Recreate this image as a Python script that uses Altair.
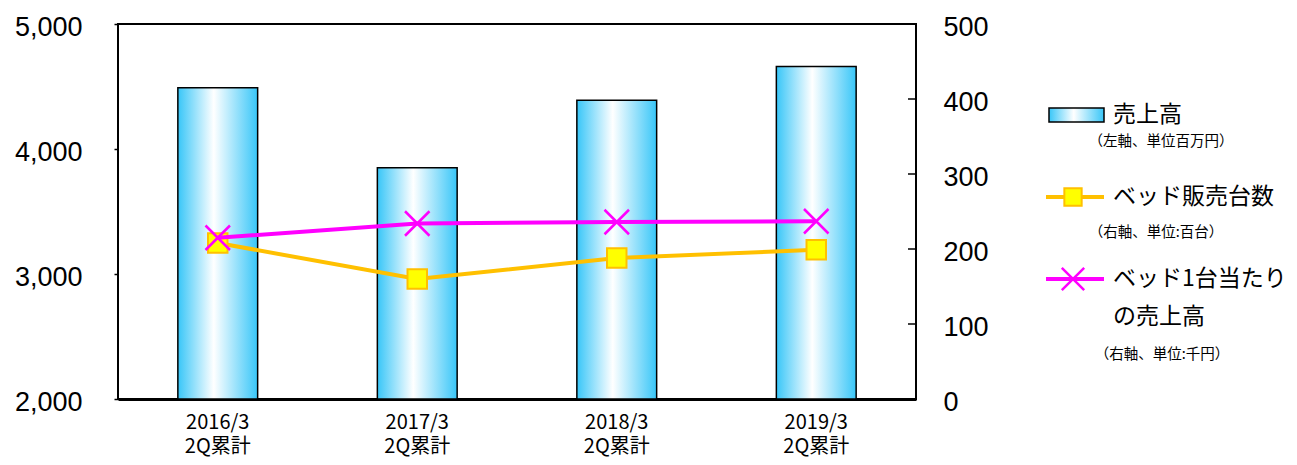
import altair as alt
import pandas as pd

categories = ["2016/3|2Q累計", "2017/3|2Q累計", "2018/3|2Q累計", "2019/3|2Q累計"]
sales = [4490, 3850, 4390, 4660]          # 売上高 (左軸, 百万円)
units = [208, 160, 188, 199]              # ベッド販売台数 (右軸, 百台)
per_unit = [215, 234, 236, 237]           # ベッド1台当たりの売上高 (右軸, 千円)
left_ticks = [2000, 3000, 4000, 5000]
right_ticks = [0, 100, 200, 300, 400, 500]
right_inner_ticks = [100, 200, 300, 400]

df = pd.DataFrame({"cat": categories, "sales": sales, "units": units, "per_unit": per_unit})
tick_df = pd.DataFrame({"t": right_inner_ticks})
one = pd.DataFrame({"k": [0]})

W, H = 798, 375
JP = "Noto Sans CJK JP"
NUM = "Liberation Sans"

gradient = alt.LinearGradient(
    gradient="linear",
    stops=[alt.GradientStop(color="#38c6f8", offset=0),
           alt.GradientStop(color="#ffffff", offset=0.45),
           alt.GradientStop(color="#38c6f8", offset=1)],
    x1=0, x2=1, y1=0, y2=0)

x_enc = alt.X("cat:N", sort=categories,
              scale=alt.Scale(paddingInner=0.6, paddingOuter=0.3),
              axis=alt.Axis(title=None, labelExpr="split(datum.label, '|')", labelAngle=0,
                            labelFont=JP, labelFontSize=20, labelLineHeight=24,
                            labelPadding=13, labelColor="black", ticks=False,
                            domain=True, domainColor="black", domainWidth=3,
                            labelBaseline="top"))

left_axis = alt.Axis(values=left_ticks, format=",d", title=None, labelFont=NUM,
                     labelFontSize=27, labelColor="black", tickColor="black",
                     tickSize=4, tickWidth=1.5, labelPadding=32, domain=False,
                     grid=False, labelFlush=False, labelBaseline="middle", labelOffset=3)
right_axis = alt.Axis(values=right_ticks, orient="right", title=None, labelFont=NUM,
                      labelFontSize=27, labelColor="black", tickSize=0,
                      labelPadding=27, domain=False, grid=False, labelFlush=False,
                      labelBaseline="middle", labelOffset=3)
rs = alt.Scale(domain=[0, 500], nice=False, zero=True)

bars = alt.Chart(df).mark_bar(fill=gradient, stroke="black", strokeWidth=1.5).encode(
    x=x_enc,
    y=alt.Y("sales:Q", scale=alt.Scale(domain=[2000, 5000], zero=False, nice=False), axis=left_axis),
    y2=alt.datum(2000))

units_line = alt.Chart(df).mark_line(color="#FFC000", strokeWidth=4).encode(
    x=x_enc, y=alt.Y("units:Q", scale=rs, axis=right_axis))
units_pts = alt.Chart(df).mark_point(shape="square", filled=True, fill="#FFFF00", stroke="#FFC000",
                                     strokeWidth=2, size=380, opacity=1).encode(
    x=x_enc, y=alt.Y("units:Q", scale=rs, axis=right_axis))
per_line = alt.Chart(df).mark_line(color="#FF00FF", strokeWidth=4).encode(
    x=x_enc, y=alt.Y("per_unit:Q", scale=rs, axis=right_axis))
XSHAPE = "M-1,-1L1,1M-1,1L1,-1"
per_pts = alt.Chart(df).mark_point(shape=XSHAPE, filled=False, stroke="#FF00FF",
                                   strokeWidth=2.5, size=600, opacity=1).encode(
    x=x_enc, y=alt.Y("per_unit:Q", scale=rs, axis=right_axis))
rticks = alt.Chart(tick_df).mark_rule(color="black", strokeWidth=1.5).encode(
    y=alt.Y("t:Q", scale=rs, axis=right_axis), x=alt.value(W - 8), x2=alt.value(W))

right = alt.layer(units_line, units_pts, per_line, per_pts, rticks)

# custom legend
def txt(s, x, y, size, align="left"):
    return alt.Chart(one).mark_text(font=JP, fontSize=size, align=align, baseline="middle",
                                    color="black").encode(
        x=alt.value(x), y=alt.value(y), text=alt.value(s))

leg_bar = alt.Chart(one).mark_rect(fill=gradient, stroke="black", strokeWidth=1.5).encode(
    x=alt.value(931), x2=alt.value(986), y=alt.value(84), y2=alt.value(98))
leg_o_line = alt.Chart(one).mark_rule(color="#FFC000", strokeWidth=4).encode(
    x=alt.value(928), x2=alt.value(986), y=alt.value(173))
leg_o_pt = alt.Chart(one).mark_point(shape="square", filled=True, fill="#FFFF00", stroke="#FFC000",
                                     strokeWidth=2, size=300, opacity=1).encode(
    x=alt.value(955), y=alt.value(173))
leg_m_line = alt.Chart(one).mark_rule(color="#FF00FF", strokeWidth=4).encode(
    x=alt.value(928), x2=alt.value(986), y=alt.value(255))
leg_m_pt = alt.Chart(one).mark_point(shape=XSHAPE, filled=False, stroke="#FF00FF",
                                     strokeWidth=2.5, size=500, opacity=1).encode(
    x=alt.value(955), y=alt.value(255))

legend = [
    leg_bar, txt("売上高", 995, 91, 23), txt("（左軸、単位百万円）", 1043, 118, 14.5, "center"),
    leg_o_line, leg_o_pt, txt("ベッド販売台数", 995, 173, 23),
    txt("（右軸、単位:百台）", 1038, 209, 14.5, "center"),
    leg_m_line, leg_m_pt, txt("ベッド1台当たり", 995, 255, 23), txt("の売上高", 995, 293, 23),
    txt("（右軸、単位:千円）", 1044, 331, 14.5, "center"),
]

chart = alt.layer(bars, right, *legend).resolve_scale(y="independent").properties(
    width=W, height=H,
    autosize=alt.AutoSizeParams(type="none"),
    padding={"left": 110, "top": 16, "right": 373, "bottom": 58},
    background="white",
).configure_view(stroke="black", strokeWidth=2)

chart.save("out.html", embed_options={"renderer": "svg", "actions": False})
